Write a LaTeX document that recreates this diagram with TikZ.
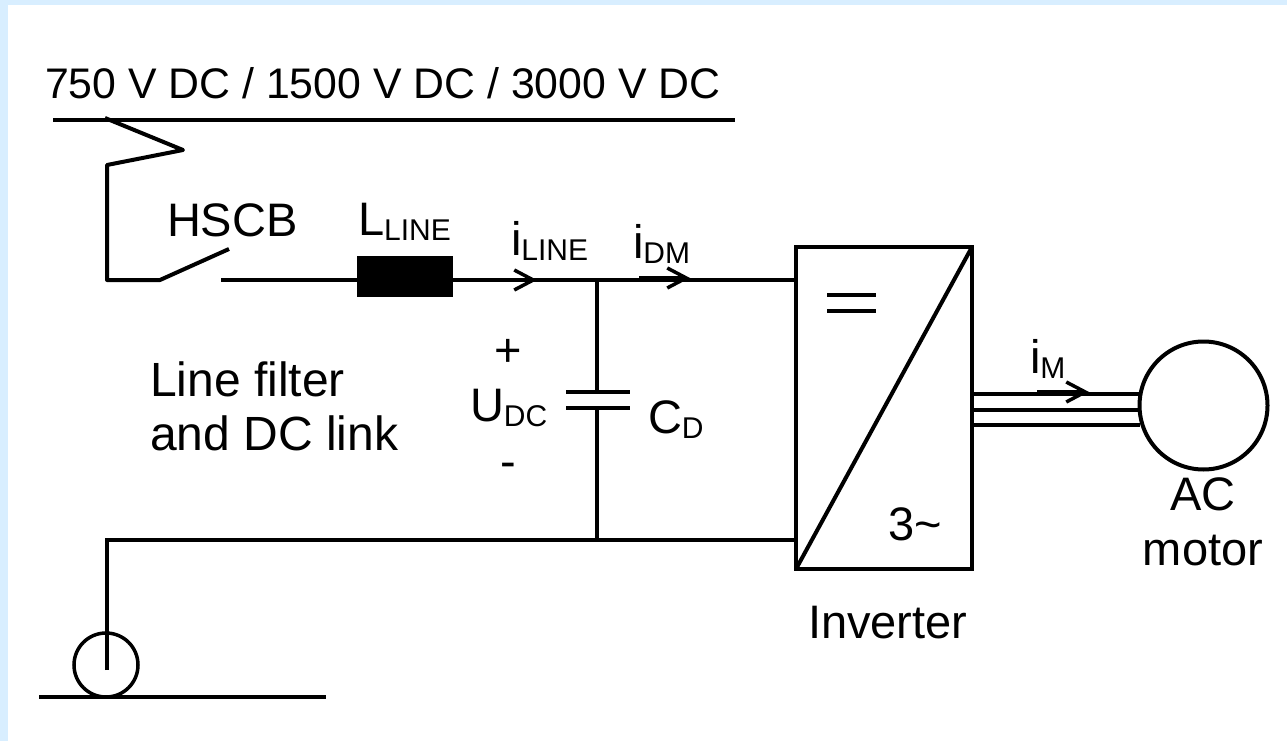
\documentclass[tikz,border=0pt]{standalone}
\usepackage{fontspec}
\setmainfont{Liberation Sans}
\usepackage{xcolor}
\usetikzlibrary{arrows.meta}
\usetikzlibrary{positioning}
\definecolor{slidebg}{HTML}{D8EEFF}
\newcommand{\lowtext}[1]{\raisebox{-5pt}{\fontsize{30}{30}\selectfont #1}}

\begin{document}
\begin{tikzpicture}[x=1pt,y=-1pt,
                wire/.style={line width=4pt},
                thinwire/.style={line width=3.5pt},
                current/.style={line width=3.5pt,-{Straight Barb[length=19pt,width=20pt,line width=3.5pt]}},
                lbl/.style={inner sep=0pt,outer sep=0pt,anchor=base west,font=\fontsize{47}{47}\selectfont},
                midlbl/.style={lbl,anchor=base,align=center}]
                \useasboundingbox (0,0) rectangle (1287,741);
                \fill[slidebg] (0,0) rectangle (1287,741);
                \fill[white] (8,5) rectangle (1287,741);

                \node[lbl,font=\fontsize{42.8}{43}\selectfont] (supply) at (45,99) {750 V DC / 1500 V DC / 3000 V DC};
                \node[lbl] (hscb) at (167,236) {HSCB};
                \node[lbl] (lline) at (358,235) {L\lowtext{LINE}};
                \node[lbl] (iline) at (511,255) {i\lowtext{LINE}};
                \node[lbl] (idm) at (633,258) {i\lowtext{DM}};
                \node[lbl,font=\fontsize{48}{55}\selectfont] (filter1) at (150,396) {Line filter};
                \node[lbl,font=\fontsize{48}{55}\selectfont] (filter2) at (150,450) {and DC link};
                \node[midlbl] (plus) at (508,366) {+};
                \node[lbl] (udc) at (470,421) {U\lowtext{DC}};
                \node[midlbl] (minus) at (508,477) {-};
                \node[lbl] (cd) at (648,433) {C\lowtext{D}};
                \node[lbl] (threeph) at (888,540) {3\textasciitilde};
                \node[lbl] (invlbl) at (808,638) {Inverter};
                \node[lbl] (im) at (1030,373) {i\lowtext{M}};
                \node[midlbl] (motorlbl) at (1203,510) {AC};
                \node[midlbl] (motorlbl2) at (1203,565) {motor};

                \node[rectangle,draw,wire,outer sep=0pt,inner sep=0pt,minimum width=176pt,minimum height=322pt] (inv) at (884,408) {};
                \node[circle,draw,wire,outer sep=0pt,inner sep=0pt,minimum size=128pt] (motor) at (1203.5,405.5) {};
                \node[circle,draw,thinwire,outer sep=0pt,inner sep=0pt,minimum size=64pt] (earth) at (106,665) {};
                \node[rectangle,fill=black,outer sep=0pt,inner sep=0pt,minimum width=96pt,minimum height=41pt] (choke) at (405,276.5) {};

                \coordinate (busl) at (53,120);
                \coordinate (busr) at (735,120);
                \coordinate (zig1) at (105,118);
                \coordinate (zig2) at (183,150);
                \coordinate (zig3) at (107,165);
                \coordinate (zig4) at (107,280);
                \coordinate (sw1) at (160,280);
                \coordinate (sw2) at (229,249);
                \coordinate (sw3) at (221,280);
                \coordinate (capn) at (597,280);
                \coordinate (caps) at (597,540);
                \coordinate (capu) at (597,392);
                \coordinate (capd) at (597,408);
                \coordinate (retl) at (107,540);
                \coordinate (gndl) at (39,697);
                \coordinate (gndr) at (326,697);
                \coordinate (stem) at (107,670);

                \draw[wire] (busl) -- (busr);
                \draw[wire,line join=round] (zig1) -- (zig2) -- (zig3) -- (zig4) -- (sw1) -- (sw2);
                \draw[wire] (sw3) -- (choke.west |- sw3);
                \draw[wire] (choke.east |- capn) -- (capn) -- (inv.west |- capn);
                \draw[wire] (capn) -- (capu);
                \draw[wire] (capd) -- (caps);
                \draw[wire] ([xshift=-31pt]capu) -- ([xshift=33pt]capu);
                \draw[wire] ([xshift=-31pt]capd) -- ([xshift=33pt]capd);
                \draw[wire] (stem) -- (retl) -- (inv.west |- retl);
                \draw[wire] (gndl) -- (gndr);
                \draw[wire] (inv.south west) -- (inv.north east);

                \coordinate (eq1) at (827,295);
                \coordinate (eq2) at (827,311);
                \draw[wire] (eq1) -- ++(49,0);
                \draw[wire] (eq2) -- ++(49,0);

                \foreach \wy in {394,410,425}
                    \draw[wire] (inv.east |- 0,\wy) -- (motor.west |- 0,\wy);

                \coordinate (aline) at (500,280);
                \coordinate (adm) at (639,278);
                \coordinate (am) at (1037,392);
                \draw[current] (aline) -- ++(37,0);
                \draw[current] (adm) -- ++(51,0);
                \draw[current] (am) -- ++(52,0);
\end{tikzpicture}
\end{document}
